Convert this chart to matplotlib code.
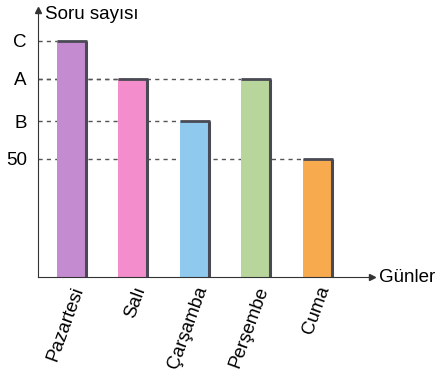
import numpy as np
import matplotlib
matplotlib.use("Agg")
import matplotlib.pyplot as plt

# data (letters are unknown values, so the heights are estimates)
days = ["Pazartesi", "Salı", "Çarşamba", "Perşembe", "Cuma"]
values = [100, 84, 66, 84, 50]
colors = ["#c48bd0", "#f38dcb", "#90c9ee", "#b8d69c", "#f7aa4e"]
ytick_vals = [100, 84, 66, 50]
ytick_labels = ["C", "A", "B", "50"]

plt.rcParams['font.family'] = ['Liberation Sans', 'DejaVu Sans']

fig = plt.figure(figsize=(4.48, 3.81), dpi=100)
ax = fig.add_axes([38 / 448, 1 - 277 / 381, (372 - 38) / 448, 267 / 381])

x = np.arange(len(days))
w = 0.47
edge = "#4a4a55"

ax.bar(x, values, width=w, color=colors, zorder=2)
for xi, v in zip(x, values):
    # dark right side and top edge
    ax.plot([xi + w / 2, xi + w / 2], [0, v], color=edge, lw=2.2, zorder=3,
            solid_capstyle="butt")
    ax.plot([xi - w / 2, xi + w / 2 + 0.02], [v, v], color=edge, lw=2, zorder=3,
            solid_capstyle="butt")
    # dashed guide from y axis to bar
    ax.plot([-0.54, xi - w / 2], [v, v], color="#555555", lw=1,
            ls=(0, (3, 3)), zorder=1)

ax.set_xlim(-0.54, 4.89)
ax.set_ylim(0, 113)

for s in ["top", "right"]:
    ax.spines[s].set_visible(False)
ax.spines["left"].set_color("#333333")
ax.spines["bottom"].set_color("#333333")

ax.set_yticks(ytick_vals)
ax.set_yticklabels(ytick_labels, fontsize=13.5)
ax.set_xticks(x)
ax.set_xticklabels(days, fontsize=13.5, rotation=70, ha="right",
                   rotation_mode="anchor")
ax.tick_params(length=0, pad=8)
ax.tick_params(axis="x", pad=5)

# arrows on axes
ax.plot(1, 0, ">", color="#333333", ms=4, transform=ax.transAxes, clip_on=False)
ax.plot(0, 1, "^", color="#333333", ms=4, transform=ax.transAxes, clip_on=False)
ax.text(0.022, 0.985, "Soru sayısı", transform=ax.transAxes, fontsize=13.5,
        va="center", ha="left")
ax.text(1.02, 0, "Günler", transform=ax.transAxes, fontsize=13.5,
        va="center", ha="left")

fig.savefig("out.png", dpi=100)
